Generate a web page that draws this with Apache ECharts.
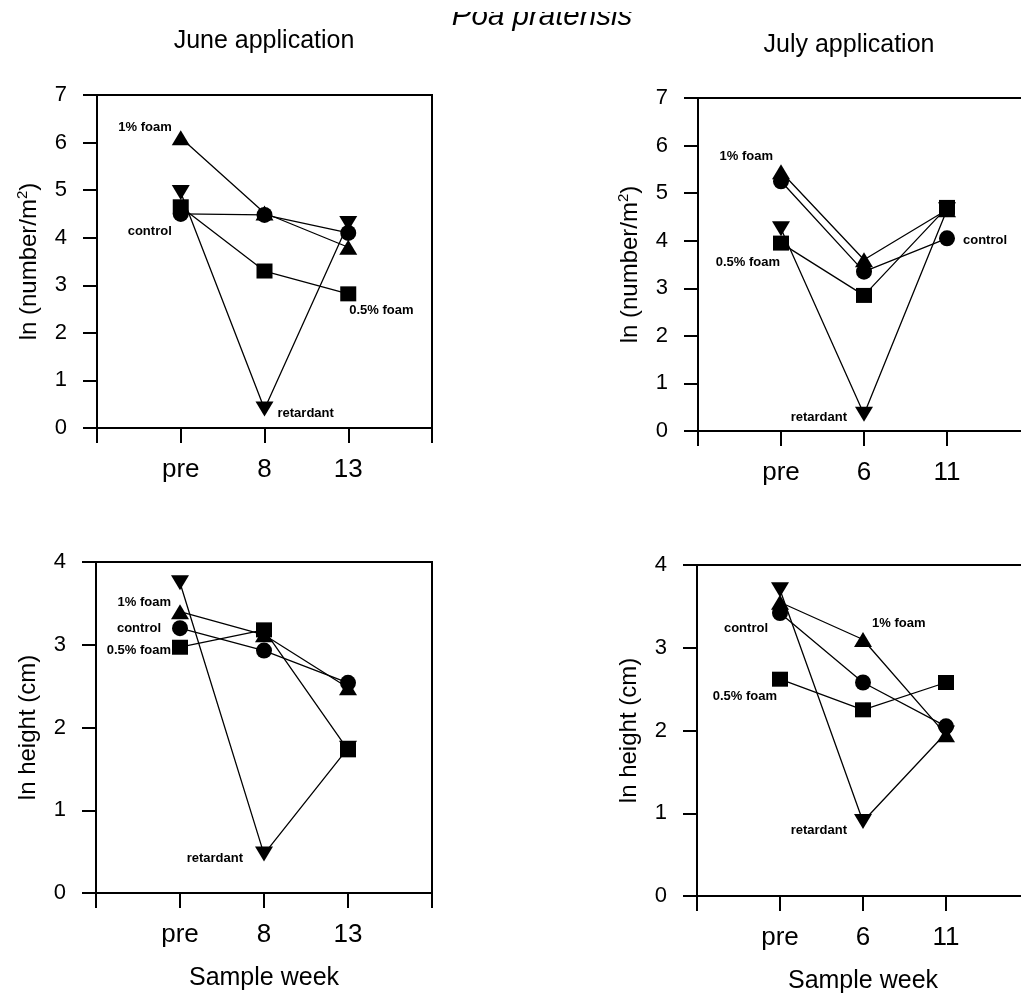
<!DOCTYPE html>
<html><head><meta charset="utf-8">
<script src="https://cdn.jsdelivr.net/npm/echarts@6/dist/echarts.min.js"></script>
<style>html,body{margin:0;padding:0;background:#fff}#c{width:1021px;height:998px}</style>
</head><body><div id="c"></div>
<script>
// ---------- data ----------
const weeksJune = ['pre', '8', '13'];
const weeksJuly = ['pre', '6', '11'];
const treatments = ['1% foam', 'control', '0.5% foam', 'retardant'];

// ln (number/m2), June application
const juneDensityFoam1 = [6.1, 4.52, 3.8];
const juneDensityControl = [4.5, 4.48, 4.1];
const juneDensityFoam05 = [4.65, 3.3, 2.82];
const juneDensityRetardant = [4.95, 0.4, 4.3];

// ln (number/m2), July application
const julyDensityFoam1 = [5.45, 3.6, 4.65];
const julyDensityControl = [5.25, 3.35, 4.05];
const julyDensityFoam05 = [3.95, 2.85, 4.7];
const julyDensityRetardant = [4.25, 0.35, 4.65];

// ln height (cm), June application
const juneHeightFoam1 = [3.4, 3.12, 2.48];
const juneHeightControl = [3.2, 2.93, 2.54];
const juneHeightFoam05 = [2.97, 3.18, 1.73];
const juneHeightRetardant = [3.75, 0.47, 1.75];

// ln height (cm), July application
const julyHeightFoam1 = [3.55, 3.1, 1.95];
const julyHeightControl = [3.42, 2.58, 2.05];
const julyHeightFoam05 = [2.62, 2.25, 2.58];
const julyHeightRetardant = [3.7, 0.9, 1.97];

const densityMax = 7;
const heightMax = 4;

// ---------- layout / style ----------
const FONT = '"Liberation Sans", Arial, Helvetica, sans-serif';
const symbols = {
  '1% foam': {symbol: 'triangle', size: [18, 15]},
  'control': {symbol: 'circle', size: 16},
  '0.5% foam': {symbol: 'rect', size: [16, 15]},
  'retardant': {symbol: 'path://M0,0L20,0L10,17Z', size: [18, 15]}
};

const panels = [
  {grid: {left: 97, width: 335, top: 95, height: 333}, weeks: weeksJune, max: densityMax, yName: 'density',
   values: [juneDensityFoam1, juneDensityControl, juneDensityFoam05, juneDensityRetardant],
   labels: [[0, -9, -10, 'right'], [0, -9, 17, 'right'], [2, 1, 17, 'left'], [1, 13, 4, 'left']]},
  {grid: {left: 698, width: 332, top: 98, height: 333}, weeks: weeksJuly, max: densityMax, yName: 'density',
   values: [julyDensityFoam1, julyDensityControl, julyDensityFoam05, julyDensityRetardant],
   labels: [[0, -8, -15, 'right'], [2, 16, 2, 'left'], [0, -1, 19, 'right'], [1, -17, 3, 'right']]},
  {grid: {left: 96, width: 336, top: 562, height: 331}, weeks: weeksJune, max: heightMax, yName: 'height', xName: true,
   values: [juneHeightFoam1, juneHeightControl, juneHeightFoam05, juneHeightRetardant],
   labels: [[0, -9, -9, 'right'], [0, -19, 0, 'right'], [0, -9, 3, 'right'], [1, -21, 4, 'right']]},
  {grid: {left: 697, width: 332, top: 565, height: 331}, weeks: weeksJuly, max: heightMax, yName: 'height', xName: true,
   values: [julyHeightFoam1, julyHeightControl, julyHeightFoam05, julyHeightRetardant],
   labels: [[1, 9, -16, 'left'], [0, -12, 15, 'right'], [0, -3, 17, 'right'], [1, -16, 9, 'right']]}
];

const axisLine = {show: true, lineStyle: {color: '#000', width: 2}};
const grids = [], xAxes = [], yAxes = [], series = [];

panels.forEach((p, pi) => {
  grids.push(Object.assign({show: true, borderColor: '#000', borderWidth: 2, containLabel: false,
    outerBoundsMode: 'none'}, p.grid));
  xAxes.push({
    type: 'value', gridIndex: pi, min: 0, max: 4, interval: 1,
    axisLine: axisLine,
    axisTick: {show: true, length: 15, lineStyle: {color: '#000', width: 2}},
    axisLabel: {margin: 29, fontSize: 26, color: '#000', fontFamily: FONT,
      formatter: v => (v >= 1 && v <= p.weeks.length) ? p.weeks[v - 1] : ''},
    splitLine: {show: false},
    name: p.xName ? 'Sample week' : '', nameLocation: 'middle', nameGap: 73,
    nameTextStyle: {fontSize: 25, color: '#000', fontFamily: FONT}
  });
  yAxes.push({
    type: 'value', gridIndex: pi, min: 0, max: p.max, interval: 1,
    axisLine: axisLine,
    axisTick: {show: true, length: 14, lineStyle: {color: '#000', width: 2}},
    axisLabel: {margin: 30, fontSize: 22, color: '#000', fontFamily: FONT},
    splitLine: {show: false},
    name: p.yName === 'density' ? '{n|ln (number/m}{s|2}{n|)}' : '{n|ln height (cm)}',
    nameLocation: 'middle', nameGap: 54, nameRotate: 90,
    nameTextStyle: {color: '#000', fontFamily: FONT, fontSize: 24,
      rich: {n: {fontSize: 24, color: '#000', fontFamily: FONT, lineHeight: 28},
             s: {fontSize: 15, color: '#000', fontFamily: FONT, verticalAlign: 'top', lineHeight: 28}}}
  });
  treatments.forEach((t, ti) => {
    const lab = p.labels[ti];
    const data = p.values[ti].map((v, i) => {
      const item = {value: [i + 1, v]};
      if (i === lab[0]) {
        item.label = {show: true, position: 'inside', formatter: t, align: lab[3], verticalAlign: 'middle',
          offset: [lab[1], lab[2]], fontSize: 13, fontWeight: 'bold', color: '#000', fontFamily: FONT};
      }
      return item;
    });
    series.push({
      type: 'line', name: t, xAxisIndex: pi, yAxisIndex: pi, data: data,
      symbol: symbols[t].symbol, symbolSize: symbols[t].size,
      itemStyle: {color: '#000', borderWidth: 0},
      lineStyle: {color: '#000', width: 1.3},
      label: {show: false}, animation: false, z: 3
    });
  });
});

const chart = echarts.init(document.getElementById('c'), null, {renderer: 'canvas'});
chart.setOption({
  backgroundColor: '#fff',
  animation: false,
  textStyle: {fontFamily: FONT},
  grid: grids, xAxis: xAxes, yAxis: yAxes, series: series,
  graphic: [
    {type: 'text', z: 10, style: {text: 'Poa pratensis', x: 542, y: 17, align: 'center', verticalAlign: 'middle',
      font: 'italic 29.5px ' + FONT, fill: '#000'}},
    {type: 'rect', z: 11, shape: {x: 430, y: 0, width: 230, height: 12}, style: {fill: '#fff'}},
    {type: 'text', z: 10, style: {text: 'June application', x: 264, y: 41.5, align: 'center', verticalAlign: 'middle',
      font: '25px ' + FONT, fill: '#000'}},
    {type: 'text', z: 10, style: {text: 'July application', x: 849, y: 45, align: 'center', verticalAlign: 'middle',
      font: '25px ' + FONT, fill: '#000'}}
  ]
});
</script></body></html>
